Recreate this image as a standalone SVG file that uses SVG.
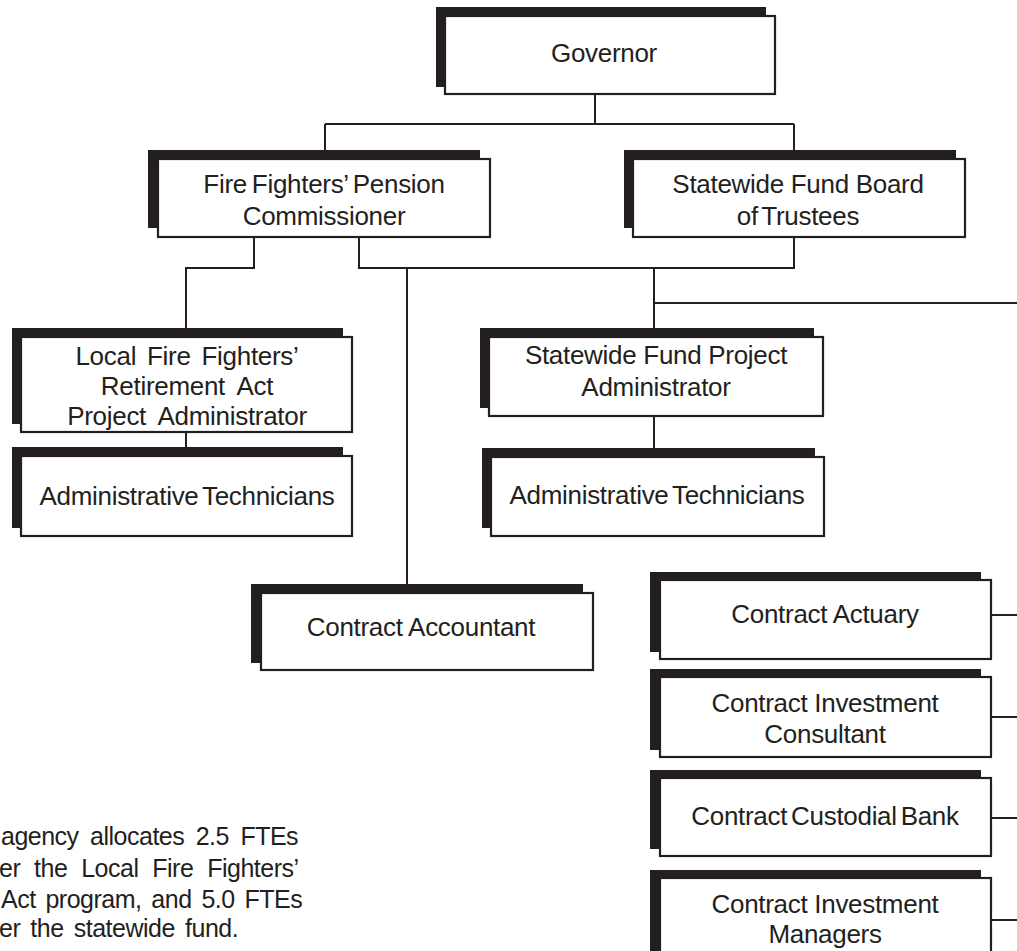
<svg xmlns="http://www.w3.org/2000/svg" width="1017" height="951" viewBox="0 0 1017 951">
<style>
.sh{fill:#231f20}
.bx{fill:#fff;stroke:#231f20;stroke-width:2.2}
.t{font-family:"Liberation Sans",Arial,Helvetica,sans-serif;font-size:26px;fill:#231f20;text-anchor:middle;letter-spacing:-0.3px}
.n{font-family:"Liberation Sans",Arial,Helvetica,sans-serif;font-size:25px;fill:#231f20;letter-spacing:-0.5px}
.c{fill:none;stroke:#231f20;stroke-width:2}
</style>
<rect width="1017" height="951" fill="#fff"/>
<g id="connectors">
<path class="c" d="M595,94 V124 M325,124 H794 M325,124 V151 M794,124 V151"/>
<path class="c" d="M254,237 V268 H186 V328"/>
<path class="c" d="M359,237 V268 H794 V237"/>
<path class="c" d="M407,268 V584"/>
<path class="c" d="M654,268 V328 M654,303 H1017"/>
<path class="c" d="M186,432 V448"/>
<path class="c" d="M654,416 V449"/>
<path class="c" d="M991,615 H1017 M991,717 H1017 M991,818 H1017 M991,920 H1017"/>
</g>
<g id="governor">
<rect class="sh" x="436" y="7" width="330" height="80"/>
<rect class="bx" x="445" y="16" width="330" height="78"/>
<text class="t" x="604" y="62">Governor</text>
</g>
<g id="ff-commissioner">
<rect class="sh" x="148" y="150" width="332" height="78"/>
<rect class="bx" x="158" y="159" width="332" height="78"/>
<text class="t" x="324" y="193" word-spacing="-2">Fire Fighters’ Pension</text>
<text class="t" x="324" y="225">Commissioner</text>
</g>
<g id="board">
<rect class="sh" x="624" y="150" width="332" height="78"/>
<rect class="bx" x="633" y="159" width="332" height="78"/>
<text class="t" x="798" y="193">Statewide Fund Board</text>
<text class="t" x="798" y="225" word-spacing="-3">of Trustees</text>
</g>
<g id="lff-admin">
<rect class="sh" x="12" y="328" width="331" height="96"/>
<rect class="bx" x="21" y="337" width="331" height="95"/>
<text class="t" x="187" y="365" word-spacing="4">Local Fire Fighters’</text>
<text class="t" x="187" y="395" word-spacing="6">Retirement Act</text>
<text class="t" x="187" y="425" word-spacing="6">Project Administrator</text>
</g>
<g id="lff-techs">
<rect class="sh" x="12" y="447" width="331" height="81"/>
<rect class="bx" x="21" y="456" width="331" height="80"/>
<text class="t" x="187" y="505" word-spacing="-3">Administrative Technicians</text>
</g>
<g id="sf-admin">
<rect class="sh" x="480" y="328" width="334" height="80"/>
<rect class="bx" x="489" y="337" width="334" height="79"/>
<text class="t" x="656" y="364">Statewide Fund Project</text>
<text class="t" x="656" y="396">Administrator</text>
</g>
<g id="sf-techs">
<rect class="sh" x="482" y="448" width="333" height="80"/>
<rect class="bx" x="491" y="457" width="333" height="79"/>
<text class="t" x="657" y="504" word-spacing="-3">Administrative Technicians</text>
</g>
<g id="accountant">
<rect class="sh" x="251" y="584" width="332" height="79"/>
<rect class="bx" x="261" y="593" width="332" height="77"/>
<text class="t" x="421" y="636">Contract Accountant</text>
</g>
<g id="actuary">
<rect class="sh" x="650" y="572" width="331" height="80"/>
<rect class="bx" x="660" y="580" width="331" height="79"/>
<text class="t" x="825" y="623">Contract Actuary</text>
</g>
<g id="consultant">
<rect class="sh" x="650" y="669" width="331" height="81"/>
<rect class="bx" x="660" y="677" width="331" height="80"/>
<text class="t" x="825" y="712">Contract Investment</text>
<text class="t" x="825" y="743">Consultant</text>
</g>
<g id="custodial">
<rect class="sh" x="650" y="770" width="331" height="79"/>
<rect class="bx" x="660" y="778" width="331" height="78"/>
<text class="t" x="825" y="825" word-spacing="-3">Contract Custodial Bank</text>
</g>
<g id="managers">
<rect class="sh" x="650" y="870" width="331" height="81"/>
<rect class="bx" x="660" y="878" width="331" height="80"/>
<text class="t" x="825" y="913">Contract Investment</text>
<text class="t" x="825" y="943">Managers</text>
</g>
<g id="note">
<text class="n" x="1" y="845" word-spacing="5">agency allocates 2.5 FTEs</text>
<text class="n" x="-1" y="877" word-spacing="7.4">er the Local Fire Fighters’</text>
<text class="n" x="1" y="908" word-spacing="3.4">Act program, and 5.0 FTEs</text>
<text class="n" x="-1" y="937" word-spacing="3.7">er the statewide fund.</text>
</g>
</svg>
